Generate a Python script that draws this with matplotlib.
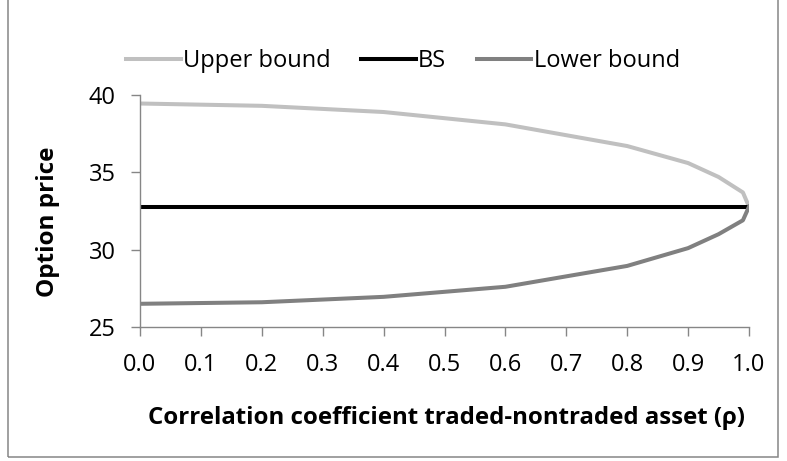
import matplotlib
matplotlib.use("Agg")
import matplotlib.pyplot as plt
from matplotlib.patches import Rectangle

# ---- data ----
rho = [0.0, 0.2, 0.4, 0.6, 0.8, 0.9, 0.95, 0.99, 1.0]
upper_bound = [39.45, 39.3, 38.9, 38.1, 36.7, 35.6, 34.7, 33.7, 32.78]
lower_bound = [26.5, 26.6, 26.95, 27.6, 28.95, 30.1, 31.0, 31.9, 32.78]
bs_price = 32.78
x_ticks = [0.0, 0.1, 0.2, 0.3, 0.4, 0.5, 0.6, 0.7, 0.8, 0.9, 1.0]
y_ticks = [25, 30, 35, 40]

plt.rcParams['font.family'] = ['Open Sans', 'DejaVu Sans']

W, H = 787, 461
fig = plt.figure(figsize=(W / 100, H / 100), dpi=100)

def fx(px):
    return px / W

def fy(py):
    return 1 - py / H

# outer chart border
fig.patches.append(Rectangle((fx(8), fy(457)), fx(778) - fx(8), fy(-2) - fy(457),
                             transform=fig.transFigure, fill=False,
                             edgecolor='#868686', linewidth=1.1))

ax = fig.add_axes([fx(140), fy(327), fx(749) - fx(140), fy(95) - fy(327)])

bs = [bs_price] * len(rho)
ax.plot(rho, upper_bound, color='#C0C0C0', lw=2.9, label='Upper bound', solid_joinstyle='round')
ax.plot(rho, bs, color='#000000', lw=2.9, label='BS')
ax.plot(rho, lower_bound, color='#808080', lw=2.9, label='Lower bound', solid_joinstyle='round')

ax.set_xlim(0, 1)
ax.set_ylim(25, 40)
ax.set_xticks(x_ticks)
ax.set_xticklabels([f"{v:.1f}" for v in x_ticks])
ax.set_yticks(y_ticks)
ax.set_yticklabels([str(v) for v in y_ticks])

for s in ['top', 'right']:
    ax.spines[s].set_visible(False)
for s in ['left', 'bottom']:
    ax.spines[s].set_color('#868686')
    ax.spines[s].set_linewidth(1.0)
ax.tick_params(axis='both', direction='out', length=6.5, width=1.0, color='#868686',
               labelsize=17, labelcolor='black')
ax.tick_params(axis='x', pad=12.5)
ax.tick_params(axis='y', pad=11)

fig.text(fx(446), fy(418), 'Correlation coefficient traded-nontraded asset (ρ)',
         ha='center', va='center', fontsize=17.3, fontweight='bold')
fig.text(fx(48), fy(222), 'Option price', ha='center', va='center', rotation=90,
         fontsize=17.5, fontweight='bold')

fig.legend(loc='center', bbox_to_anchor=(fx(403), fy(61)), ncol=3, frameon=False,
           fontsize=17, handlelength=2.3, handletextpad=0.1, columnspacing=1.3,
           borderpad=0, borderaxespad=0)

fig.savefig('out.png', dpi=100)
